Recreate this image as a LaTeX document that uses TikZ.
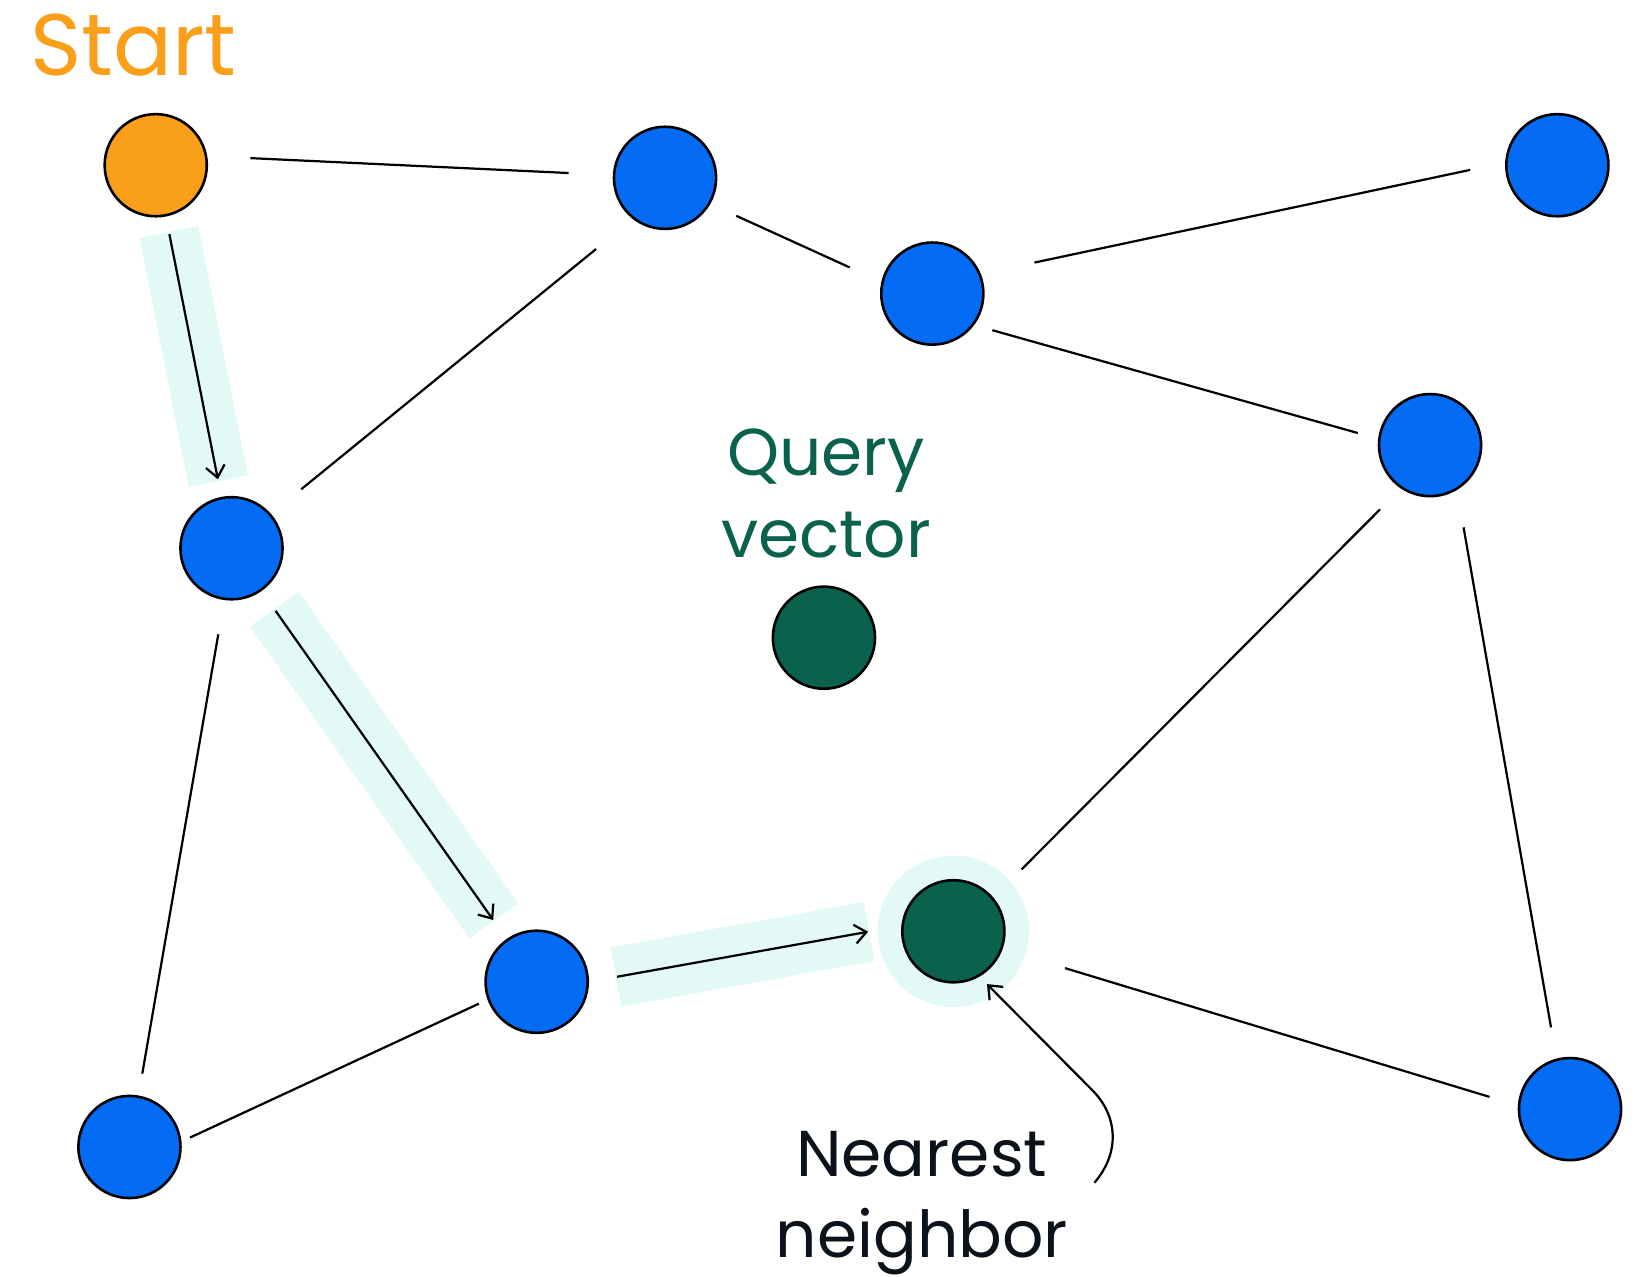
\documentclass[tikz,border=0pt]{standalone}
\usepackage{fontspec}
\setmainfont{Poppins}
\usetikzlibrary{arrows.meta,backgrounds}
\definecolor{startorange}{HTML}{F99F1A}
\definecolor{nodeblue}{HTML}{046BF5}
\definecolor{querygreen}{HTML}{0A624C}
\definecolor{pathband}{HTML}{E3F9F5}
\definecolor{labelblack}{HTML}{0B1219}
\begin{document}
\begin{tikzpicture}[x=0.01cm,y=-0.01cm,
    vertex/.style={circle,draw=black,line width=0.7pt,minimum size=0.97cm,inner sep=0pt},
    edge/.style={line width=0.6pt},
    hop/.style={line width=0.6pt,-{Straight Barb[length=1.1mm,width=1.8mm]}},
    band/.style={line width=0.57cm,draw=pathband}]
                        \useasboundingbox (0,0) rectangle (1568,1213);

                        \node [vertex,fill=startorange] (start) at (148,157) {};
                        \node [vertex,fill=nodeblue] (n1) at (632,169) {};
                        \node [vertex,fill=nodeblue] (n2) at (1480,157) {};
                        \node [vertex,fill=nodeblue] (n3) at (886,279) {};
                        \node [vertex,fill=nodeblue] (n4) at (1359,423) {};
                        \node [vertex,fill=nodeblue] (n5) at (220,521) {};
                        \node [vertex,fill=querygreen] (query) at (783,606) {};
                        \node [vertex,fill=querygreen] (nn) at (906,885) {};
                        \node [vertex,fill=nodeblue] (n6) at (510,933) {};
                        \node [vertex,fill=nodeblue] (n7) at (123,1090) {};
                        \node [vertex,fill=nodeblue] (n8) at (1492,1054) {};

                        \begin{scope}[on background layer]
                        \fill [pathband] (nn) circle (72);
                        \draw [band,shorten <=0.15cm,shorten >=0.15cm] (start) -- (n5);
                        \draw [band,shorten <=0.21cm,shorten >=0.21cm] (n5) -- (n6);
                        \draw [band,shorten <=0.26cm,shorten >=0.31cm] (n6.-0.9) -- (nn.174.6);
                        \end{scope}

                        \draw [edge,shorten <=0.41cm,shorten >=0.42cm] (start.10.5) -- (n1.177.8);
                        \draw [edge,shorten <=0.27cm,shorten >=0.33cm] (n1.-30.2) -- (n3.167.9);
                        \draw [edge,shorten <=0.45cm,shorten >=0.37cm] (n1.232.9) -- (n5.41.2);
                        \draw [edge,shorten <=0.52cm,shorten >=0.34cm] (n3.22.8) -- (n2.177.6);
                        \draw [edge,shorten <=0.18cm,shorten >=0.20cm] (n3.-37.3) -- (n4.173.4);
                        \draw [edge,shorten <=0.28cm,shorten >=0.38cm] (n4.236.5) -- (nn.40.9);
                        \draw [edge,shorten <=0.36cm,shorten >=0.30cm] (n4.-59.9) -- (n8.105);
                        \draw [edge,shorten <=0.33cm,shorten >=0.21cm] (n5.262.7) -- (n7.80.1);
                        \draw [edge,shorten <=0.09cm,shorten >=0.09cm] (n6.200.2) -- (n7.6.3);
                        \draw [edge,shorten <=0.62cm,shorten >=0.28cm] (nn.-20) -- (n8.176.6);

                        \draw [hop,shorten <=0.17cm,shorten >=0.17cm] (start) -- (n5);
                        \draw [hop,shorten <=0.23cm,shorten >=0.22cm] (n5) -- (n6);
                        \draw [hop,shorten <=0.27cm,shorten >=0.32cm] (n6.-0.9) -- (nn.174.6);

                        \node [anchor=base west,inner sep=0pt,text=startorange,font=\fontsize{23.6}{28}\selectfont] (starttext) at (28,72) {Start};
                        \node [anchor=base,inner sep=0pt,align=center,text=querygreen,font=\fontsize{17.9}{22.2}\selectfont] (querytext) at (785,530) {Query\\vector};
                        \node [anchor=base,inner sep=0pt,align=center,text=labelblack,font=\fontsize{17.5}{21.9}\selectfont] (nntext) at (876,1195) {Nearest\\neighbor};

                        \coordinate (nntail) at (1040,1124);
                        \coordinate (nnbend) at (1038,1036);
                        \draw [hop,shorten >=0.1cm] (nntail) .. controls (1065,1095) and (1062,1060) .. (nnbend) -- (nn.300);
                    \end{tikzpicture}
\end{document}
